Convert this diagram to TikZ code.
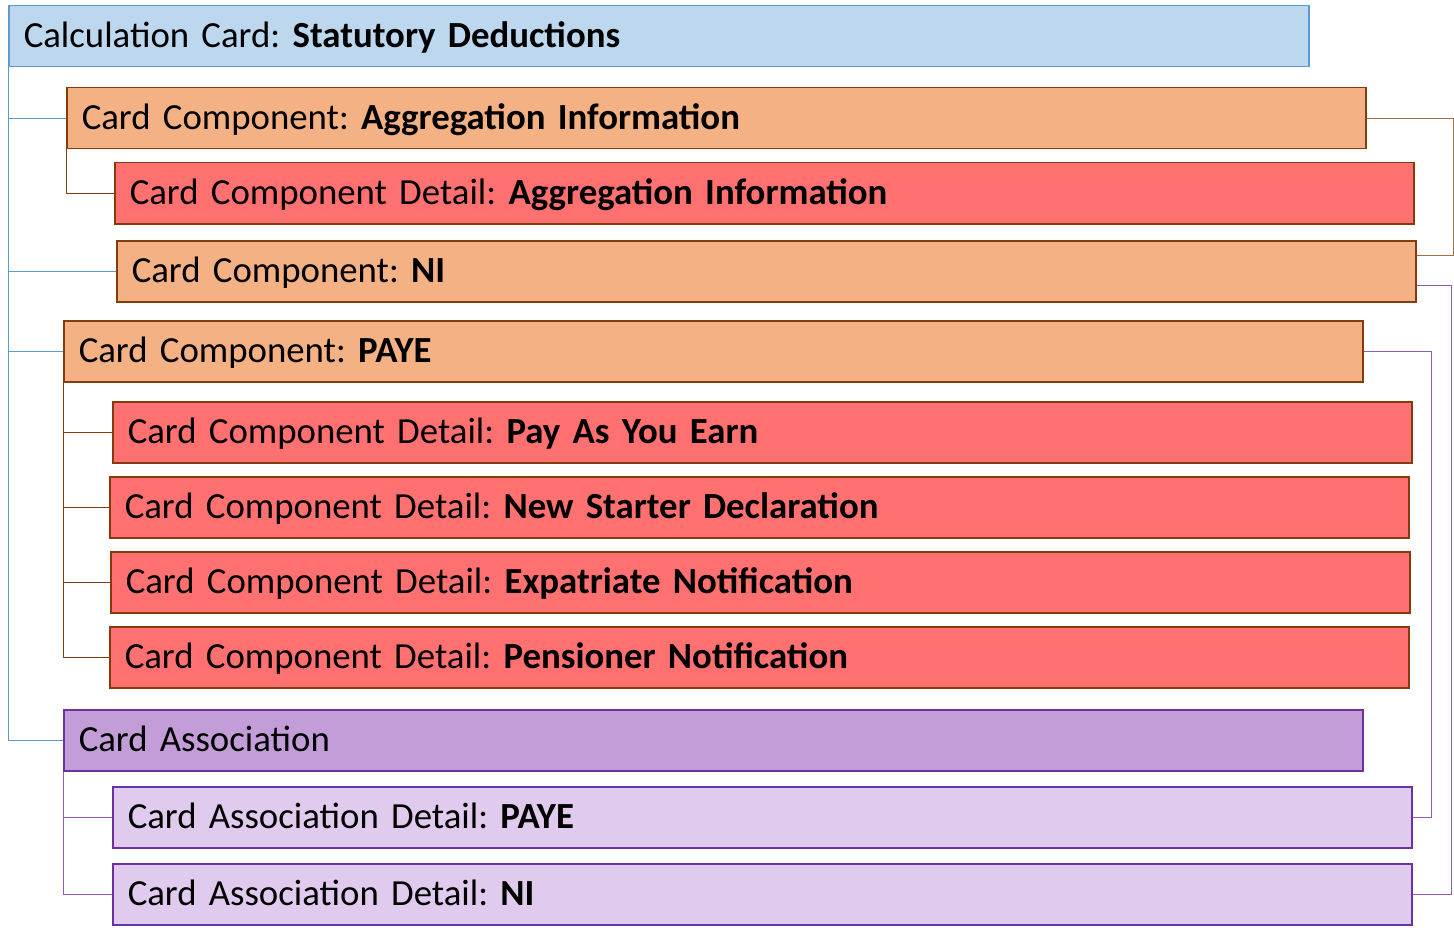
\documentclass[tikz,border=0pt]{standalone}
\usepackage{fontspec}
\setmainfont{Carlito}[WordSpace=0.8]
\usetikzlibrary{backgrounds}
\frenchspacing
\definecolor{calcfill}{HTML}{BDD7EE}
\definecolor{calcline}{HTML}{5B9BD5}
\definecolor{compfill}{HTML}{F4B183}
\definecolor{compline}{HTML}{843C0C}
\definecolor{detfill}{HTML}{FF7070}
\definecolor{assocfill}{HTML}{C39DD8}
\definecolor{assocline}{HTML}{7030A0}
\definecolor{adfill}{HTML}{E0CBEE}
\definecolor{purpconn}{HTML}{8E5CC0}
\tikzset{
  box/.style={rectangle, anchor=north west, minimum height=61pt, inner xsep=15pt,
    text width=1269pt, align=left,
    text height=27pt, text depth=4pt, font=\fontsize{36.8}{40}\selectfont\frenchspacing, line width=1.5pt},
  calcbox/.style={box, text width=1270pt, fill=calcfill, draw=calcline},
  compbox/.style={box, fill=compfill, draw=compline},
  detbox/.style={box, fill=detfill, draw=compline},
  assocbox/.style={box, fill=assocfill, draw=assocline},
  adbox/.style={box, fill=adfill, draw=assocline},
  blueconn/.style={draw=calcline, line width=1pt},
  brownconn/.style={draw=compline, line width=1pt},
  brownright/.style={draw=compline!75, line width=1pt},
  purpleconn/.style={draw=purpconn, line width=1pt},
}
\begin{document}
\begin{tikzpicture}[x=1pt,y=-1pt]
\useasboundingbox (0,0) rectangle (1454,939);
\coordinate (rA) at (1453,0);
\coordinate (rB) at (1451,0);
\coordinate (rC) at (1431,0);

\node[calcbox] (calc) at (8,5) {Calculation Card: \textbf{Statutory Deductions}};
\node[compbox] (aggC) at (66,87) {Card Component: \textbf{Aggregation Information}};
\node[detbox] (aggD) at (114,162) {Card Component Detail: \textbf{Aggregation Information}};
\node[compbox] (ni) at (116,240) {Card Component: \textbf{NI}};
\node[compbox] (paye) at (63,320) {Card Component: \textbf{PAYE}};
\node[detbox] (d1) at (112,401) {Card Component Detail: \textbf{Pay As You Earn}};
\node[detbox] (d2) at (109,476) {Card Component Detail: \textbf{New Starter Declaration}};
\node[detbox] (d3) at (110,551) {Card Component Detail: \textbf{Expatriate Notification}};
\node[detbox] (d4) at (109,626) {Card Component Detail: \textbf{Pensioner Notification}};
\node[assocbox] (assoc) at (63,709) {Card Association};
\node[adbox] (ad1) at (112,786) {Card Association Detail: \textbf{PAYE}};
\node[adbox] (ad2) at (112,863) {Card Association Detail: \textbf{NI}};

\coordinate (niA) at ([yshift=15.5pt]ni.east);
\coordinate (niB) at ([yshift=-14.5pt]ni.east);

\begin{scope}[on background layer]
\draw[blueconn] (calc.south west) |- (aggC.west);
\draw[blueconn] (calc.south west) |- (ni.west);
\draw[blueconn] (calc.south west) |- (paye.west);
\draw[blueconn] (calc.south west) |- (assoc.west);
\draw[brownconn] (aggC.south west) |- (aggD.west);
\draw[brownconn] (paye.south west) |- (d1.west);
\draw[brownconn] (paye.south west) |- (d2.west);
\draw[brownconn] (paye.south west) |- (d3.west);
\draw[brownconn] (paye.south west) |- (d4.west);
\draw[purpleconn] (assoc.south west) |- (ad1.west);
\draw[purpleconn] (assoc.south west) |- (ad2.west);
\draw[brownright] (aggC.east) -| (rA |- niA) -- (niA);
\draw[purpleconn] (niB) -| (rB |- ad2.east) -- (ad2.east);
\draw[purpleconn] (paye.east) -| (rC |- ad1.east) -- (ad1.east);
\end{scope}
\end{tikzpicture}
\end{document}
